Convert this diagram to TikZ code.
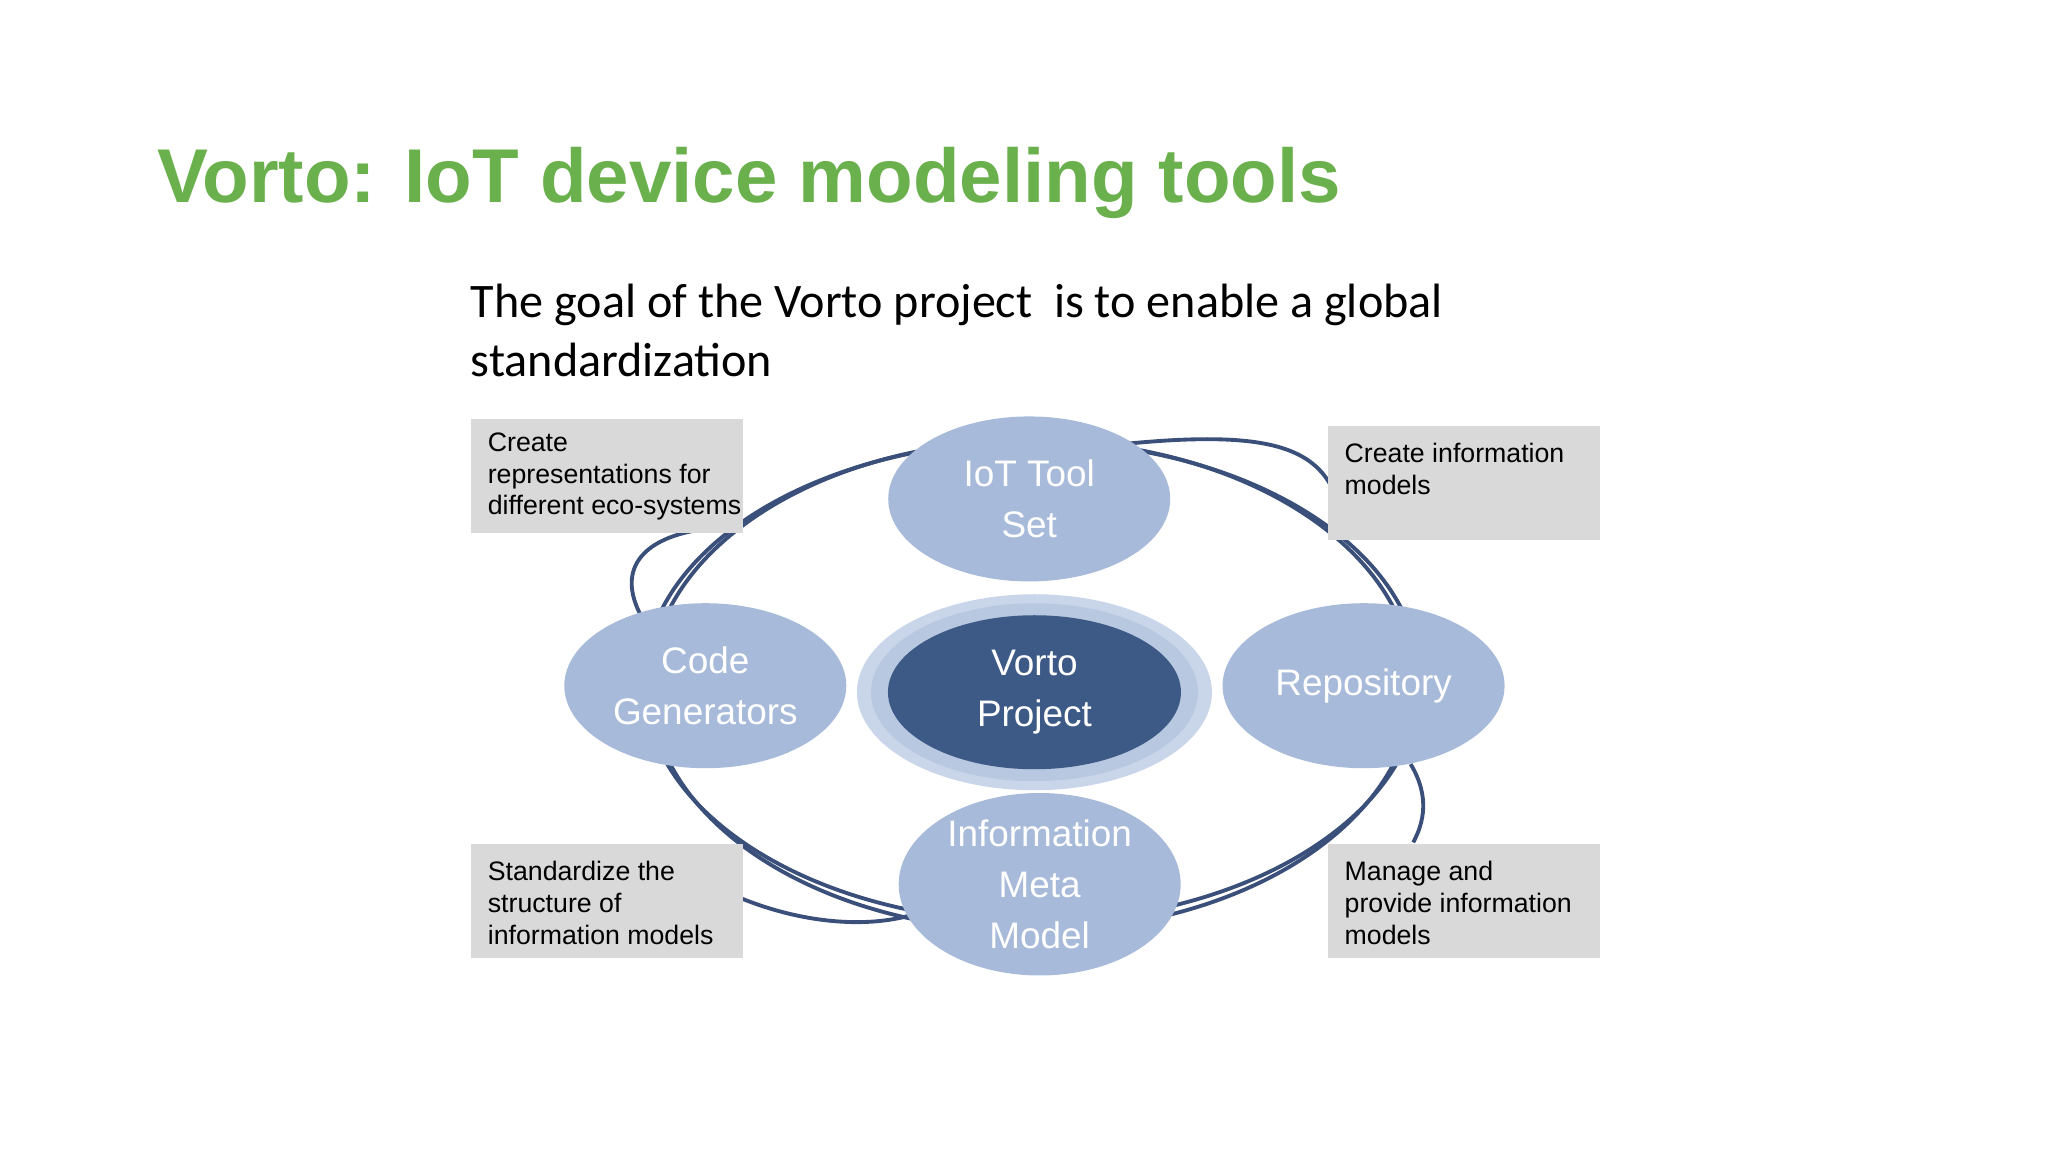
\documentclass[tikz,border=0pt]{standalone}
\usepackage{fontspec}
\setmainfont{Carlito}
\newfontfamily\arialfont{Liberation Sans}
\usetikzlibrary{shapes.geometric}
\definecolor{titlegreen}{HTML}{6AB04C}
\definecolor{ovalblue}{HTML}{A7BAD9}
\definecolor{coreblue}{HTML}{3D5A87}
\definecolor{haloblue}{HTML}{C9D6EA}
\definecolor{ringblue}{HTML}{3A4F7A}
\definecolor{boxgray}{HTML}{D9D9D9}
\tikzset{
  oval/.style={ellipse, fill=ovalblue, minimum width=2.82cm, minimum height=1.65cm, inner sep=0pt,
    text=white, align=center, font=\arialfont\fontsize{10.5}{14.5}\selectfont},
  notebox/.style={fill=boxgray, minimum width=2.72cm, minimum height=1.14cm, inner sep=0pt},
  notetext/.style={anchor=north west, align=left, font=\arialfont\fontsize{7.6}{9}\selectfont},
  ring/.style={draw=ringblue, line width=1.1pt}
}
\begin{document}
\begin{tikzpicture}[x=0.01306cm, y=-0.01306cm]
  \useasboundingbox (0,0) rectangle (1568,882);

  % title and goal
  \node[anchor=base west, inner sep=0pt, text=titlegreen, font=\arialfont\bfseries\fontsize{21.7}{26}\selectfont] (title) at (120,155) {Vorto: IoT device modeling tools};
  \node[anchor=base west, inner sep=0pt, font=\fontsize{13.7}{16}\selectfont] (goal) at (360,243) {The goal of the Vorto project\ \ is to enable a global};
  \node[anchor=base west, inner sep=0pt, font=\fontsize{13.7}{16}\selectfont] (goal2) at (360,288) {standardization};

  % outer ring
  \draw[ring] (790,525) ellipse [x radius=292, y radius=188];
  \draw[ring] (790,522) ellipse [x radius=297, y radius=184];
  \draw[ring] (490,470) .. controls (470,430) and (500,410) .. (540,405);
  \draw[ring] (860,340) .. controls (960,330) and (1000,340) .. (1018,370);
  \draw[ring] (1080,585) .. controls (1095,610) and (1090,630) .. (1082,645);
  \draw[ring] (568,688) .. controls (610,705) and (660,712) .. (700,700);

  % notes
  \node[notebox, anchor=north west] (createrep) at (360,320) {};
  \node[notetext] at (364,322) {Create\\representations for\\different eco-systems};
  \node[notebox, anchor=north west] (createinfo) at (1016,326) {};
  \node[notetext] at (1020,330) {Create information\\models};
  \node[notebox, anchor=north west] (standard) at (360,646) {};
  \node[notetext] at (364,650) {Standardize the\\structure of\\information models};
  \node[notebox, anchor=north west] (manage) at (1016,646) {};
  \node[notetext] at (1020,650) {Manage and\\provide information\\models};

  % ovals
  \node[oval] (toolset) at (788,382) {IoT Tool\\Set};
  \node[oval] (codegen) at (540,525) {Code\\Generators};
  \node[oval] (repo) at (1044,525) {Repository};
  \node[oval] (metamodel) at (796,677) {Information\\Meta\\Model};

  % core
  \node[ellipse, fill=haloblue, minimum width=3.55cm, minimum height=1.96cm] (halo) at (792,530) {};
  \node[ellipse, fill=ovalblue!80, minimum width=3.27cm, minimum height=1.78cm] (mid) at (792,530) {};
  \node[ellipse, fill=coreblue, minimum width=2.93cm, minimum height=1.54cm, inner sep=0pt, text=white, align=center,
    font=\arialfont\fontsize{10.5}{14.5}\selectfont] (vorto) at (792,530) {Vorto\\Project};
\end{tikzpicture}
\end{document}
